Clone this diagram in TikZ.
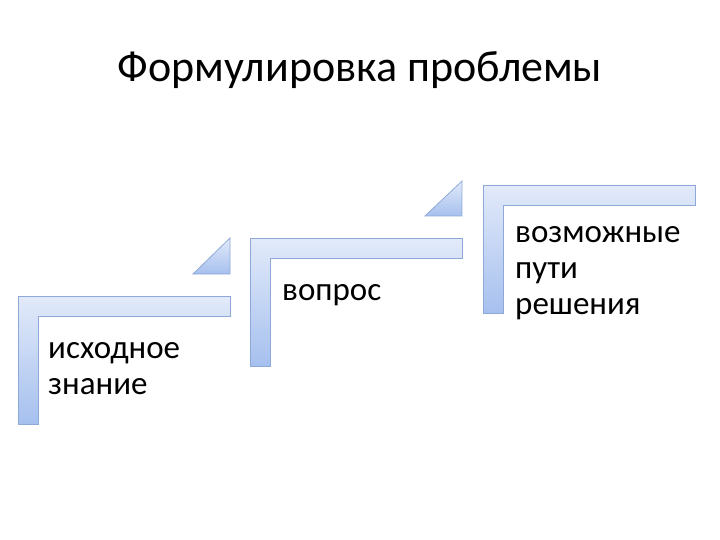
\documentclass[tikz,border=0pt]{standalone}
\usepackage{fontspec}
\setmainfont{Carlito}
\definecolor{edgeb}{HTML}{8EA9D8}
\definecolor{lite}{HTML}{E2EAFA}
\definecolor{dark}{HTML}{A6C0EE}
\tikzset{
 lshape/.style={draw=edgeb,line width=0.8pt,top color=lite,bottom color=dark},
 tri/.style={draw=edgeb,line width=0.8pt,top color=lite,bottom color=dark},
 lbl/.style={anchor=base west,align=left,font=\fontsize{33}{36}\selectfont,inner sep=0pt},
}
\begin{document}
\begin{tikzpicture}[x=1pt,y=-1pt]
\useasboundingbox (0,0) rectangle (720,540);
\node[font=\fontsize{44}{48}\selectfont,anchor=base] (title) at (360,82) {Формулировка проблемы};
\foreach \x/\y/\n in {18/296/a,250/238/b,483/185/c}{
  \path[lshape] (\x,\y) -- (\x+212,\y) -- (\x+212,\y+20) -- (\x+20,\y+20) -- (\x+20,\y+128) -- (\x,\y+128) -- cycle;
}
\path[tri] (193,274) -- (230,274) -- (230,238) -- cycle;
\path[tri] (425,216) -- (462,216) -- (462,181) -- cycle;
\node[lbl] (t1) at (48,394) {исходное\\знание};
\node[lbl] (t2) at (282,300) {вопрос};
\node[lbl] (t3) at (515,314) {возможные\\пути\\решения};
\end{tikzpicture}
\end{document}
